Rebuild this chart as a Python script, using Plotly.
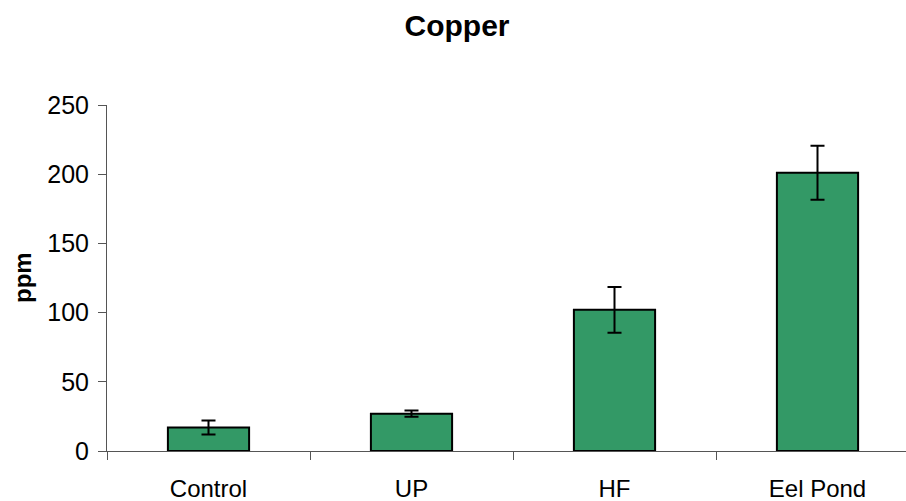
import plotly.graph_objects as go

# Copper concentration by site
sites = ["Control", "UP", "HF", "Eel Pond"]
copper_ppm = [17, 27, 102, 201]
copper_err = [5, 2.3, 16.5, 19.5]
y_ticks = [0, 50, 100, 150, 200, 250]

W, H = 906, 501
left, top, bottom = 107, 105, 50
plot_w = W - left

fig = go.Figure(
    go.Bar(
        x=sites,
        y=copper_ppm,
        marker=dict(color="#339966", line=dict(color="black", width=2)),
        error_y=dict(type="data", array=copper_err, visible=True,
                     color="black", thickness=2, width=7),
        width=0.4,
    )
)

font = "Liberation Sans, Arial, sans-serif"

fig.update_layout(
    width=W, height=H,
    margin=dict(l=left, r=0, t=top, b=bottom),
    paper_bgcolor="white", plot_bgcolor="white",
    showlegend=False,
    font=dict(family=font, color="black", size=24),
    title=dict(text="<b>Copper</b>", x=457 / W, xanchor="center",
               y=1 - 25 / H, yanchor="middle", yref="container",
               font=dict(size=30, family=font, color="black")),
    xaxis=dict(
        type="category",
        range=[-0.5, -0.5 + plot_w / 203],
        tickson="boundaries",
        ticks="outside", ticklen=8, tickcolor="#555",
        showline=True, linecolor="#555", linewidth=1,
        showgrid=False, zeroline=False,
        ticklabelstandoff=16,
        tickfont=dict(size=24, family=font, color="black"),
    ),
    yaxis=dict(
        range=[0, 250],
        tickvals=y_ticks,
        ticks="outside", ticklen=8, tickcolor="#555",
        showline=True, linecolor="#555", linewidth=1,
        showgrid=False, zeroline=False,
        ticklabelstandoff=4,
        tickfont=dict(size=25, family=font, color="black"),
    ),
    annotations=[dict(
        text="<b>ppm</b>", textangle=-90,
        xref="paper", yref="paper",
        x=-(left - 22) / plot_w, y=0.5,
        xanchor="center", yanchor="middle", showarrow=False,
        font=dict(size=24, family=font, color="black"),
    )],
)

fig.write_html("out.html")
